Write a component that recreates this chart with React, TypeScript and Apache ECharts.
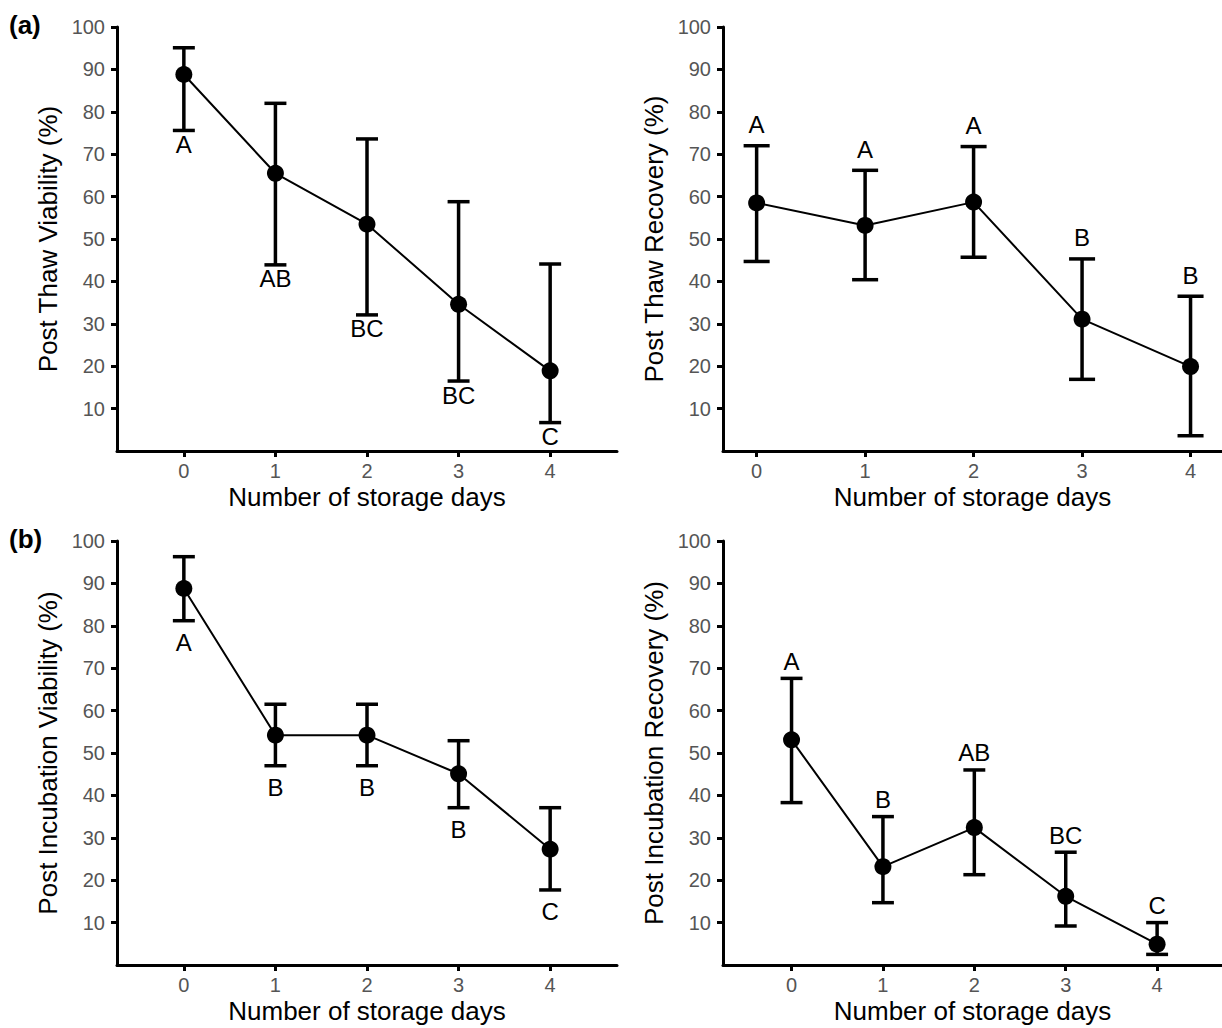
import React, { useEffect, useRef } from "react";
import * as echarts from "echarts";

const days = [0, 1, 2, 3, 4];
const yTicks = [10, 20, 30, 40, 50, 60, 70, 80, 90, 100];

const thawViabMean = [88.8, 65.5, 53.5, 34.6, 18.9];
const thawViabLow = [75.6, 43.9, 32.1, 16.5, 6.7];
const thawViabHigh = [95.1, 82.0, 73.6, 58.8, 44.1];
const thawViabLetters = ["A", "AB", "BC", "BC", "C"];

const thawRecMean = [58.5, 53.2, 58.7, 31.1, 19.9];
const thawRecLow = [44.7, 40.4, 45.7, 16.9, 3.6];
const thawRecHigh = [72.0, 66.2, 71.8, 45.3, 36.5];
const thawRecLetters = ["A", "A", "A", "B", "B"];

const incViabMean = [88.8, 54.2, 54.2, 45.1, 27.3];
const incViabLow = [81.2, 47.0, 47.0, 37.1, 17.7];
const incViabHigh = [96.3, 61.5, 61.5, 52.9, 37.1];
const incViabLetters = ["A", "B", "B", "B", "C"];

const incRecMean = [53.1, 23.2, 32.4, 16.2, 4.9];
const incRecLow = [38.3, 14.7, 21.3, 9.2, 2.5];
const incRecHigh = [67.6, 35.0, 46.0, 26.6, 10.0];
const incRecLetters = ["A", "B", "AB", "BC", "C"];

const FONT = "'Liberation Sans', Arial, sans-serif";

const panels = [
  { yName: "Post Thaw Viability (%)", mean: thawViabMean, low: thawViabLow, high: thawViabHigh, letters: thawViabLetters, pos: "below", off: 14, grid: { left: 117, top: 27, width: 500, height: 424 }, xMin: -0.73, xMax: 4.73 },
  { yName: "Post Thaw Recovery (%)", mean: thawRecMean, low: thawRecLow, high: thawRecHigh, letters: thawRecLetters, pos: "above", off: 21, grid: { left: 723, top: 27, width: 500, height: 424 }, xMin: -0.31, xMax: 4.29 },
  { yName: "Post Incubation Viability (%)", mean: incViabMean, low: incViabLow, high: incViabHigh, letters: incViabLetters, pos: "below", off: 22, grid: { left: 117, top: 541, width: 500, height: 424 }, xMin: -0.73, xMax: 4.73 },
  { yName: "Post Incubation Recovery (%)", mean: incRecMean, low: incRecLow, high: incRecHigh, letters: incRecLetters, pos: "above", off: 17, grid: { left: 723, top: 541, width: 500, height: 424 }, xMin: -0.75, xMax: 4.71 },
];

export default function App() {
  const ref = useRef<HTMLDivElement>(null);
  useEffect(() => {
    if (!ref.current) return;
    const chart = echarts.init(ref.current, null, { renderer: "svg" });
    const grids: any[] = [];
    const xAxes: any[] = [];
    const yAxes: any[] = [];
    const series: any[] = [];
    panels.forEach((p, i) => {
      grids.push({ ...p.grid, containLabel: false });
      xAxes.push({
        type: "value",
        gridIndex: i,
        min: p.xMin,
        max: p.xMax,
        name: "Number of storage days",
        nameLocation: "middle",
        nameGap: 33,
        nameTextStyle: { fontFamily: FONT, fontSize: 26, color: "#000" },
        axisLine: { show: true, onZero: false, lineStyle: { color: "#000", width: 3 } },
        axisTick: { show: true, length: 6, customValues: days, lineStyle: { color: "#000", width: 3 } },
        axisLabel: { customValues: days, margin: 10, fontFamily: FONT, fontSize: 20, color: "#555" },
        splitLine: { show: false },
      });
      yAxes.push({
        type: "value",
        gridIndex: i,
        min: 0,
        max: 100,
        name: p.yName,
        nameLocation: "middle",
        nameGap: 56,
        nameTextStyle: { fontFamily: FONT, fontSize: 26, color: "#000" },
        axisLine: { show: true, onZero: false, lineStyle: { color: "#000", width: 3 } },
        axisTick: { show: true, length: 6, customValues: yTicks, lineStyle: { color: "#000", width: 3 } },
        axisLabel: { customValues: yTicks, margin: 12, fontFamily: FONT, fontSize: 20, color: "#555" },
        splitLine: { show: false },
      });
      const barData = days.map((d, k) => [d, p.low[k], p.high[k]]);
      series.push({
        type: "custom",
        xAxisIndex: i,
        yAxisIndex: i,
        data: barData,
        z: 2,
        renderItem: (params: any, api: any) => {
          const x = api.value(0);
          const lo = api.value(1);
          const hi = api.value(2);
          const pLo = api.coord([x, lo]);
          const pHi = api.coord([x, hi]);
          const xl = api.coord([x - 0.12, lo])[0];
          const xr = api.coord([x + 0.12, lo])[0];
          const st = { stroke: "#000", lineWidth: 3.5 };
          const letter = p.letters[params.dataIndex];
          const ty = p.pos === "below" ? pLo[1] + p.off : pHi[1] - p.off;
          return {
            type: "group",
            children: [
              { type: "line", shape: { x1: pLo[0], y1: pLo[1], x2: pHi[0], y2: pHi[1] }, style: st },
              { type: "line", shape: { x1: xl, y1: pLo[1], x2: xr, y2: pLo[1] }, style: st },
              { type: "line", shape: { x1: xl, y1: pHi[1], x2: xr, y2: pHi[1] }, style: st },
              {
                type: "text",
                style: {
                  text: letter,
                  x: pLo[0],
                  y: ty,
                  align: "center",
                  verticalAlign: "middle",
                  fill: "#000",
                  fontFamily: FONT,
                  fontSize: 24,
                },
              },
            ],
          };
        },
      });
      series.push({
        type: "line",
        xAxisIndex: i,
        yAxisIndex: i,
        data: days.map((d, k) => [d, p.mean[k]]),
        symbol: "circle",
        symbolSize: 17,
        lineStyle: { color: "#000", width: 2 },
        itemStyle: { color: "#000" },
        z: 3,
      });
    });
    chart.setOption({
      animation: false,
      backgroundColor: "#fff",
      grid: grids,
      xAxis: xAxes,
      yAxis: yAxes,
      series,
      graphic: [
        { type: "text", left: 9, top: 12, style: { text: "(a)", fontFamily: FONT, fontSize: 26, fontWeight: "bold", fill: "#000" } },
        { type: "text", left: 9, top: 526, style: { text: "(b)", fontFamily: FONT, fontSize: 26, fontWeight: "bold", fill: "#000" } },
      ],
    });
    return () => chart.dispose();
  }, []);
  return <div ref={ref} style={{ position: "fixed", left: 0, top: 0, width: 1222, height: 1028 }} />;
}
